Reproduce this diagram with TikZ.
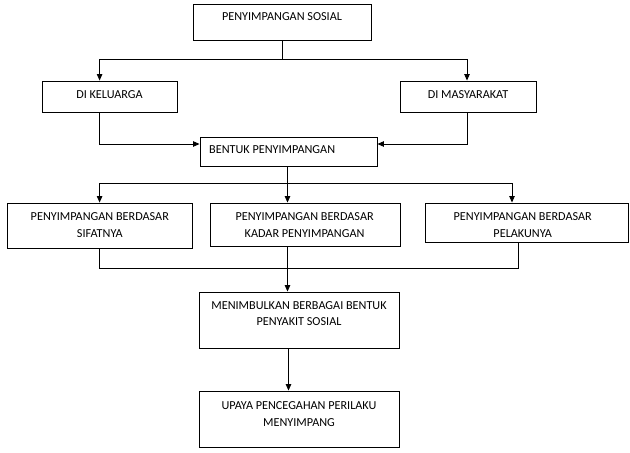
\documentclass[tikz,border=0pt]{standalone}
\usepackage{fontspec}
\setmainfont{Carlito}
\usetikzlibrary{arrows.meta}
\begin{document}
\begin{tikzpicture}[x=1pt,y=-1pt,
  box/.style={draw, line width=0.9pt, inner sep=0pt},
  txt/.style={inner sep=0pt, align=center, font=\fontsize{12.2}{16.5}\selectfont},
  conn/.style={line width=0.9pt},
  arr/.style={conn, -{Triangle[length=6.5pt,width=5.5pt]}}]
\useasboundingbox (0,0) rectangle (630,453);
% boxes
\node[box, minimum width=178pt, minimum height=36pt] (b1) at (282,22) {};
\node[box, minimum width=135pt, minimum height=31pt] (bk) at (109.5,96.5) {};
\node[box, minimum width=136pt, minimum height=31pt] (bm) at (468,96.5) {};
\node[box, minimum width=177pt, minimum height=29pt] (bb) at (288.5,151.5) {};
\node[box, minimum width=185pt, minimum height=45pt] (ba) at (99.5,225.5) {};
\node[box, minimum width=190pt, minimum height=43pt] (bB) at (305,224.5) {};
\node[box, minimum width=203.5pt, minimum height=39pt] (bc) at (526.75,222.5) {};
\node[box, minimum width=200pt, minimum height=56pt] (bd) at (299,320) {};
\node[box, minimum width=200pt, minimum height=56pt] (be) at (299,419) {};
% texts
\node[txt] (t1) at (282,17) {PENYIMPANGAN SOSIAL};
\node[txt] (tk) at (109.5,95) {DI KELUARGA};
\node[txt] (tm) at (468,95) {DI MASYARAKAT};
\node[txt, anchor=west] (tb) at (209,150) {BENTUK PENYIMPANGAN};
\node[txt] (ta) at (99.8,225) {PENYIMPANGAN BERDASAR\\SIFATNYA};
\node[txt] (tB) at (304.6,225) {PENYIMPANGAN BERDASAR\\KADAR PENYIMPANGAN};
\node[txt] (tc) at (522.7,225) {PENYIMPANGAN BERDASAR\\PELAKUNYA};
\node[txt] (td) at (299,313.5) {MENIMBULKAN BERBAGAI BENTUK\\PENYAKIT SOSIAL};
\node[txt] (te) at (299,414) {UPAYA PENCEGAHAN PERILAKU\\MENYIMPANG};
% connectors
\coordinate (j1) at (282,59);
\draw[conn] (b1.south) -- (j1);
\draw[arr] (j1) -| (bk.north -| 99.6,0);
\draw[arr] (j1) -| (bm.north -| 467,0);
\draw[arr] (bk.south -| 99.6,0) |- (bb.west |- 0,144);
\draw[arr] (bm.south -| 467,0) |- (bb.east |- 0,144);
\coordinate (j2) at (287.5,183);
\draw[conn] (bb.south -| j2) -- (j2);
\draw[arr] (j2) -| (ba.north -| 99.6,0);
\draw[arr] (j2) -- (bB.north -| j2);
\draw[arr] (j2) -| (bc.north -| 512,0);
\coordinate (j4) at (518,268);
\draw[conn] (ba.south -| 99.6,0) |- (j4) -- (bc.south -| j4);
\draw[arr] (bB.south -| j2) -- (bd.north -| j2);
\draw[arr] (bd.south -| 288.5,0) -- (be.north -| 288.5,0);
\end{tikzpicture}
\end{document}
